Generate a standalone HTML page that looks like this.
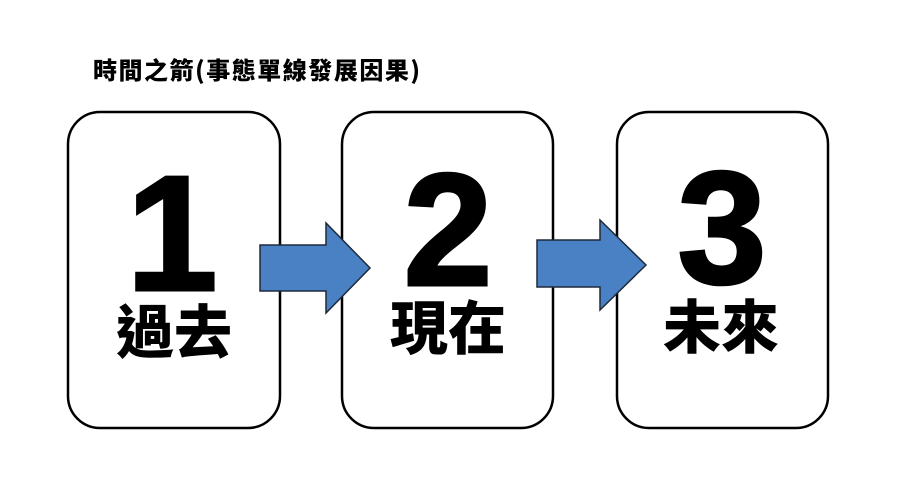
<!DOCTYPE html>
<html><head><meta charset="utf-8"><style>html,body{margin:0;padding:0;background:#fff;width:897px;height:500px;overflow:hidden}</style></head>
<body>
<svg width="897" height="500" viewBox="0 0 897 500" xmlns="http://www.w3.org/2000/svg">
<text x="93" y="79" font-family="'Noto Sans CJK TC','WenQuanYi Zen Hei',sans-serif" font-weight="900" font-size="24" textLength="327" lengthAdjust="spacing" fill="#000">時間之箭(事態單線發展因果)</text>
<g fill="#fff" stroke="#000" stroke-width="2.5">
<rect x="68" y="112" width="212" height="316" rx="32"/>
<rect x="342" y="112" width="211" height="316" rx="32"/>
<rect x="617" y="112" width="211" height="316" rx="32"/>
</g>
<g fill="#4a80c4" stroke="#1e2a3a" stroke-width="1.5">
<polygon points="260,245 326,245 326,223 370,268 326,313 326,291 260,291"/>
<polygon points="537,240 600,240 600,220 646,265 600,310 600,287 537,287"/>
</g>
<g font-family="'Liberation Sans',sans-serif" font-weight="bold" font-size="160" text-anchor="middle" fill="#000" stroke="#000" stroke-width="3">
<text x="172" y="290" font-size="164">1</text>
<text x="448" y="285">2</text>
<text x="722" y="283">3</text>
</g>
<g font-family="'Noto Sans CJK TC','WenQuanYi Zen Hei',sans-serif" font-weight="900" font-size="58" text-anchor="middle" fill="#000">
<text x="174" y="353">過去</text>
<text x="448" y="349">現在</text>
<text x="721" y="348">未來</text>
</g>
</svg>
</body></html>
